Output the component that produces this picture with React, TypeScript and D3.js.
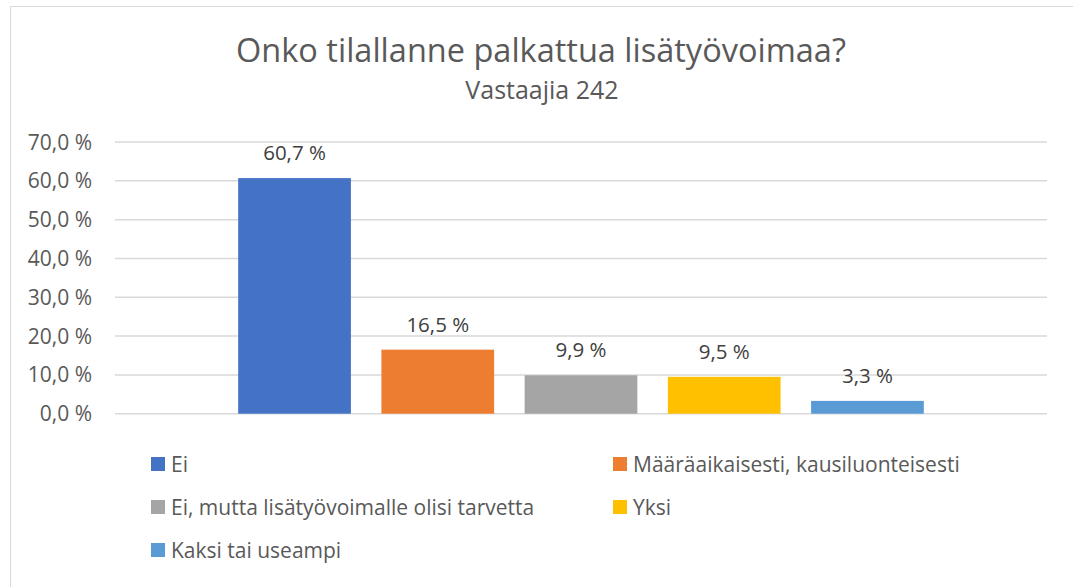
import React from 'react'
import * as d3 from 'd3'

// survey answers, share of respondents (%)
const series = [
  'Ei',
  'Määräaikaisesti, kausiluonteisesti',
  'Ei, mutta lisätyövoimalle olisi tarvetta',
  'Yksi',
  'Kaksi tai useampi',
]
const values = [60.7, 16.5, 9.9, 9.5, 3.3]
const colors = ['#4472C4', '#ED7D31', '#A5A5A5', '#FFC000', '#5B9BD5']
const yTicks = [0, 10, 20, 30, 40, 50, 60, 70]

const title = 'Onko tilallanne palkattua lisätyövoimaa?'
const subtitle = 'Vastaajia 242'

const W = 1073
const H = 587
const FONT = '"Open Sans", "Noto Sans", sans-serif'

const pct = (v: number) => d3.format('.1f')(v).replace('.', ',') + ' %'

const App = () => {
  const plot = { left: 115, right: 1047, top: 142, bottom: 413.7 }

  const x = d3
    .scaleBand<string>()
    .domain(series)
    .range([plot.left, plot.right])
    .paddingInner(0.213)
    .paddingOuter(0.86)

  const y = d3.scaleLinear().domain([0, 70]).range([plot.bottom, plot.top])

  // legend: two columns, rows filled left to right
  const legendCols = [151, 613]
  const legendRows = [464, 507, 550]

  return (
    <svg
      width={W}
      height={H}
      style={{ position: 'absolute', left: 0, top: 0, background: '#fff' }}
      fontFamily={FONT}
    >
      {/* chart area border */}
      <rect x={10.5} y={6.5} width={W + 20} height={H + 20} fill="#fff" stroke="#d9d9d9" strokeWidth={1} />

      <text x={541} y={62} textAnchor="middle" fontSize={32.5} fill="#595959">
        {title}
      </text>
      <text x={542} y={99} textAnchor="middle" fontSize={25} fill="#595959">
        {subtitle}
      </text>

      {/* gridlines + y labels */}
      <g>
        {yTicks.map((t) => (
          <g key={t}>
            <line
              x1={plot.left}
              x2={plot.right}
              y1={y(t)}
              y2={y(t)}
              stroke="#d9d9d9"
              strokeWidth={1.5}
            />
            <text
              x={92}
              y={y(t)}
              dy="0.36em"
              textAnchor="end"
              fontSize={21}
              fill="#595959"
            >
              {pct(t)}
            </text>
          </g>
        ))}
      </g>

      {/* bars */}
      <g>
        {series.map((s, i) => (
          <rect
            key={s}
            x={x(s)}
            y={y(values[i])}
            width={x.bandwidth()}
            height={y(0) - y(values[i])}
            fill={colors[i]}
          />
        ))}
      </g>

      {/* data labels */}
      <g>
        {series.map((s, i) => (
          <text
            key={s}
            x={(x(s) as number) + x.bandwidth() / 2}
            y={y(values[i]) - 18}
            textAnchor="middle"
            fontSize={20.5}
            fill="#404040"
          >
            {pct(values[i])}
          </text>
        ))}
      </g>

      {/* legend */}
      <g>
        {series.map((s, i) => {
          const lx = legendCols[i % 2]
          const ly = legendRows[Math.floor(i / 2)]
          return (
            <g key={s} transform={`translate(${lx},${ly})`}>
              <rect x={0} y={-7} width={14} height={14} fill={colors[i]} />
              <text x={20} y={0} dy="0.36em" fontSize={21} fill="#595959">
                {s}
              </text>
            </g>
          )
        })}
      </g>
    </svg>
  )
}

export default App
